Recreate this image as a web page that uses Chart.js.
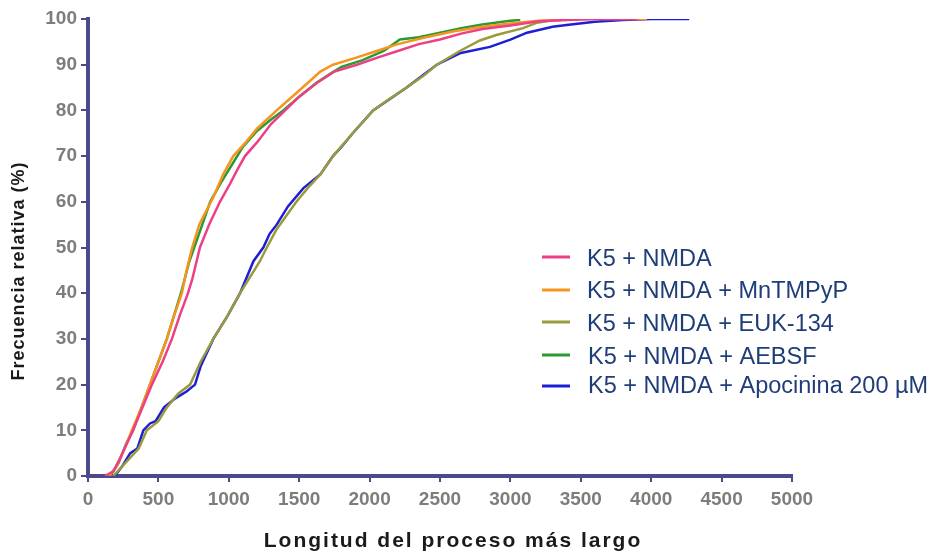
<!DOCTYPE html>
<html>
<head>
<meta charset="utf-8">
<script src="https://cdn.jsdelivr.net/npm/chart.js@4/dist/chart.umd.min.js"></script>
<style>
  html, body { margin: 0; padding: 0; background: #fff; }
  #wrap { width: 938px; height: 556px; }
</style>
</head>
<body>
<div id="wrap"><canvas id="chart" width="938" height="556"></canvas></div>
<script>
// Longitud del proceso (x) vs frecuencia relativa acumulada (y)
const seriesNames = [
  "K5 + NMDA",
  "K5 + NMDA + MnTMPyP",
  "K5 + NMDA + EUK-134",
  "K5 + NMDA + AEBSF",
  "K5 + NMDA + Apocinina 200 \u00b5M"
]
const seriesColors = ["#ee3f86", "#f7941e", "#9b9a3c", "#2b9a35", "#1d1fd6"]

const nmdaX = [120, 180, 230, 320, 454, 530, 596, 650, 710, 740, 795, 860, 937, 1010, 1060, 1115, 1200, 1300, 1400, 1500, 1625, 1750, 1910, 2050, 2200, 2350, 2500, 2650, 2800, 3000, 3200, 3400, 3600, 3900]
const nmdaY = [0, 1, 4, 10, 20, 25, 30, 35, 40, 43, 50, 55, 60, 64, 67, 70, 73, 77, 80, 83, 86, 88.5, 90, 91.5, 93, 94.5, 95.5, 96.8, 97.8, 98.6, 99.5, 99.8, 100, 100]

const mntX = [150, 200, 260, 312, 380, 440, 500, 560, 610, 667, 700, 740, 790, 840, 890, 960, 1032, 1120, 1200, 1340, 1450, 1560, 1650, 1740, 1900, 2050, 2200, 2400, 2600, 2800, 3000, 3200, 3500, 3970]
const mntY = [0, 2, 6, 10, 15, 20, 25, 30, 35, 40, 45, 50, 55, 58, 61, 66, 70, 73, 76, 80, 83, 86, 88.5, 90, 91.5, 93, 94.5, 96, 97.3, 98.3, 99, 99.6, 100, 100]

const eukX = [180, 240, 300, 360, 418, 500, 560, 640, 725, 800, 890, 990, 1080, 1221, 1270, 1340, 1480, 1560, 1650, 1740, 1880, 2025, 2140, 2263, 2380, 2477, 2641, 2783, 2900, 3090, 3190, 3300, 3500]
const eukY = [0, 2, 4, 6, 10, 12, 15, 18, 20, 25, 30, 35, 40, 47, 50, 54, 60, 63, 66, 70, 75, 80, 82.5, 85, 87.5, 90, 93, 95.3, 96.5, 98, 99.2, 99.7, 100]

const aebsfX = [160, 220, 270, 320, 440, 560, 660, 720, 800, 818, 868, 940, 1020, 1100, 1200, 1300, 1387, 1500, 1620, 1720, 1800, 1950, 2100, 2215, 2350, 2500, 2650, 2800, 3000, 3070]
const aebsfY = [0, 3, 7, 10, 20, 30, 40, 47, 54, 55.6, 60, 64, 68, 72, 75.5, 78, 80, 83, 86, 88, 89.5, 91, 93, 95.5, 96, 97, 98, 98.8, 99.6, 99.8]

const apoX = [190, 240, 300, 350, 393, 440, 480, 540, 620, 700, 760, 800, 890, 990, 1080, 1175, 1245, 1290, 1340, 1420, 1530, 1650, 1740, 1800, 1880, 2025, 2263, 2477, 2640, 2855, 3000, 3118, 3300, 3400, 3600, 3800, 4000, 4270]
const apoY = [0, 2, 5, 6, 10, 11.5, 12, 15, 17, 18.5, 20, 24, 30, 35, 40, 47, 50, 53, 55, 59, 63, 66, 70, 72, 75, 80, 85, 90, 92.5, 93.9, 95.5, 97, 98.3, 98.7, 99.4, 99.8, 100, 100]

const xTicks = [0, 500, 1000, 1500, 2000, 2500, 3000, 3500, 4000, 4500, 5000]
const yTicks = [0, 10, 20, 30, 40, 50, 60, 70, 80, 90, 100]

const seriesX = [nmdaX, mntX, eukX, aebsfX, apoX]
const seriesY = [nmdaY, mntY, eukY, aebsfY, apoY]

const axisColor = "#4b4b8c"
const tickColor = "#7d7d7d"
const fontFamily = "'Liberation Sans', Arial, sans-serif"

function toPoints(xs, ys) {
  return xs.map((x, i) => ({ x: x, y: ys[i] }))
}

// legend and axis titles drawn by hand: the legend runs past the plot's right edge
// and the titles need a bit of letter spacing
const annotationsPlugin = {
  id: "annotations",
  afterDraw(chart) {
    const ctx = chart.ctx
    const lineRows = [257, 290, 322, 355, 386]
    const textRows = [260, 292, 325, 358, 387]
    ctx.save()
    ctx.font = "23.5px " + fontFamily
    ctx.textBaseline = "middle"
    seriesNames.forEach((name, i) => {
      ctx.strokeStyle = seriesColors[i]
      ctx.lineWidth = 3
      ctx.beginPath()
      ctx.moveTo(542, lineRows[i])
      ctx.lineTo(570, lineRows[i])
      ctx.stroke()
      ctx.fillStyle = "#1f3d78"
      ctx.fillText(name, i < 3 ? 587 : 588, textRows[i])
    })

    ctx.fillStyle = "#1a1a1a"
    ctx.textAlign = "center"
    ctx.letterSpacing = "2px"
    ctx.font = "bold 21px " + fontFamily
    ctx.fillText("Longitud del proceso más largo", 453, 541)

    ctx.letterSpacing = "1px"
    ctx.font = "bold 18px " + fontFamily
    ctx.translate(19, 271)
    ctx.rotate(-Math.PI / 2)
    ctx.fillText("Frecuencia relativa (%)", 0, 0)
    ctx.restore()
  }
}

const ctx = document.getElementById("chart").getContext("2d")

new Chart(ctx, {
  type: "line",
  data: {
    datasets: seriesNames.map((name, i) => ({
      label: name,
      data: toPoints(seriesX[i], seriesY[i]),
      borderColor: seriesColors[i],
      borderWidth: 2.5,
      pointRadius: 0,
      tension: 0,
      fill: false
    }))
  },
  options: {
    responsive: false,
    animation: false,
    layout: {
      padding: { top: 19, right: 146, left: 0, bottom: 0 }
    },
    plugins: {
      legend: { display: false },
      tooltip: { enabled: false }
    },
    scales: {
      x: {
        type: "linear",
        min: 0,
        max: 5000,
        afterBuildTicks: (scale) => { scale.ticks = xTicks.map(v => ({ value: v })) },
        afterFit: (scale) => { scale.height = 80 },
        border: { color: axisColor, width: 4 },
        grid: { drawOnChartArea: false, color: axisColor, tickLength: 6, lineWidth: 2 },
        ticks: {
          color: tickColor,
          padding: 6,
          maxRotation: 0,
          callback: (v) => String(v),
          font: { family: fontFamily, size: 19, weight: "bold" }
        }
      },
      y: {
        min: 0,
        max: 100,
        afterBuildTicks: (scale) => { scale.ticks = yTicks.map(v => ({ value: v })) },
        afterFit: (scale) => { scale.width = 88 },
        border: { color: axisColor, width: 4 },
        grid: { drawOnChartArea: false, color: axisColor, tickLength: 7, lineWidth: 2 },
        ticks: {
          color: tickColor,
          padding: 4,
          callback: (v) => String(v),
          font: { family: fontFamily, size: 19, weight: "bold" }
        }
      }
    }
  },
  plugins: [annotationsPlugin]
})
</script>
</body>
</html>
